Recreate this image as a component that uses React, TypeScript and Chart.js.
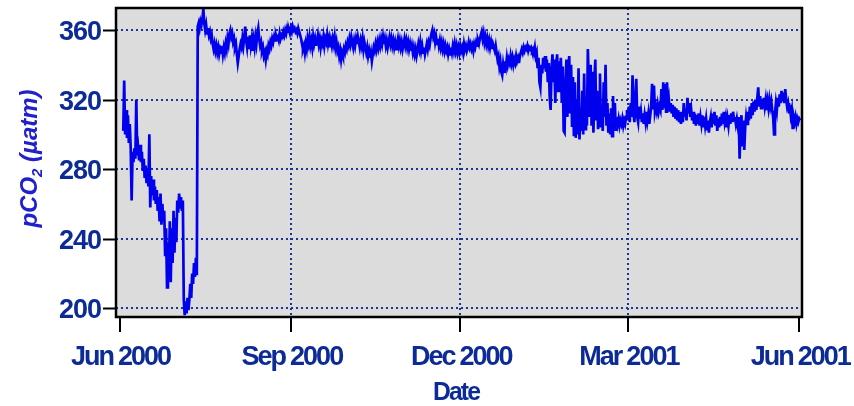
import React, { useEffect, useRef } from "react";
import { Chart, registerables } from "chart.js";

Chart.register(...registerables);

// Days since 1 June 2000
const xTickDays = [0, 92, 183, 273, 365];
const xTickLabels = ["Jun 2000", "Sep 2000", "Dec 2000", "Mar 2001", "Jun 2001"];
const yTickValues = [200, 240, 280, 320, 360];
const xTitle = "Date";

// Sampling grid of the record (days since 1 June 2000)
const dayStart = 2;
const dayStep = 0.5;

// pCO2 (µatm), one value every half day
const pco2 = [
  // day 2
  302, 331, 300, 314, 298, 311, 295, 306, 292, 262, 290, 284, 292, 286, 320, 288, 292, 285, 294, 284,
  // day 12
  290, 279, 286, 275, 282, 272, 280, 270, 300, 258, 276, 265, 274, 262, 270, 260, 268, 256, 264, 250,
  // day 22
  266, 248, 260, 250, 256, 230, 246, 212, 238, 222, 250, 215, 246, 226, 256, 232, 252, 238, 262, 255,
  // day 32
  266, 258, 264, 256, 262, 205, 196, 204, 197, 206, 199, 205, 214, 206, 220, 214, 226, 218, 229, 219,
  // day 42
  362, 364, 361, 365, 363, 366, 372, 364, 360, 363, 358, 361, 357, 359, 355, 357, 352, 349, 352, 348,
  // day 52
  351, 347, 350, 346, 349, 347, 351, 346, 350, 347, 352, 349, 355, 352, 358, 360, 356, 358, 353, 355,
  // day 62
  350, 352, 346, 341, 345, 349, 352, 350, 355, 351, 356, 362, 354, 350, 356, 349, 357, 351, 355, 348,
  // day 72
  354, 350, 356, 352, 358, 361, 355, 351, 353, 348, 350, 345, 347, 343, 348, 346, 351, 349, 353, 351,
  // day 82
  355, 353, 356, 354, 357, 355, 356, 354, 358, 355, 357, 356, 359, 357, 360, 358, 361, 359, 360, 358,
  // day 92
  361, 359, 362, 360, 361, 359, 360, 358, 361, 359, 357, 355, 352, 349, 351, 347, 352, 349, 355, 352,
  // day 102
  356, 351, 354, 350, 356, 352, 355, 351, 354, 357, 352, 355, 350, 354, 352, 356, 351, 355, 353, 357,
  // day 112
  352, 355, 350, 354, 351, 355, 352, 356, 350, 353, 348, 350, 345, 348, 343, 347, 345, 349, 347, 351,
  // day 122
  349, 353, 351, 355, 352, 356, 353, 350, 354, 351, 355, 352, 356, 353, 350, 354, 351, 355, 349, 353,
  // day 132
  350, 347, 350, 345, 348, 344, 347, 342, 346, 350, 348, 352, 349, 353, 350, 354, 351, 355, 352, 356,
  // day 142
  352, 355, 351, 354, 350, 353, 356, 352, 355, 351, 354, 350, 353, 349, 352, 355, 351, 354, 350, 353,
  // day 152
  349, 352, 355, 351, 354, 350, 353, 349, 352, 348, 351, 347, 350, 346, 349, 345, 348, 352, 349, 353,
  // day 162
  348, 351, 347, 350, 346, 349, 352, 349, 353, 351, 355, 358, 360, 356, 358, 353, 356, 352, 355, 351,
  // day 172
  354, 350, 353, 349, 352, 348, 351, 348, 350, 346, 349, 346, 350, 347, 351, 348, 352, 348, 351, 347,
  // day 182
  350, 347, 351, 348, 350, 347, 352, 349, 351, 348, 350, 353, 350, 352, 349, 351, 348, 352, 350, 353,
  // day 192
  351, 354, 352, 355, 357, 359, 355, 358, 353, 356, 352, 355, 351, 354, 350, 353, 349, 352, 350, 348,
  // day 202
  351, 347, 343, 345, 339, 342, 336, 334, 340, 336, 342, 339, 344, 340, 343, 341, 345, 341, 344, 340,
  // day 212
  343, 341, 345, 342, 344, 341, 345, 347, 349, 347, 350, 348, 350, 349, 351, 348, 350, 349, 350, 348,
  // day 222
  349, 347, 350, 345, 347, 338, 344, 330, 327, 340, 335, 344, 338, 345, 336, 343, 330, 341, 322, 314,
  // day 232
  338, 346, 330, 343, 318, 340, 346, 325, 342, 335, 344, 318, 339, 302, 301, 330, 343, 310, 338, 345,
  // day 242
  312, 340, 305, 333, 299, 330, 298, 320, 300, 338, 297, 315, 302, 325, 300, 335, 303, 318, 305, 349,
  // day 252
  330, 310, 340, 305, 336, 301, 330, 343, 308, 325, 303, 320, 335, 304, 316, 302, 330, 310, 340, 305,
  // day 262
  318, 301, 312, 300, 315, 299, 322, 305, 318, 302, 310, 306, 309, 305, 308, 306, 309, 305, 308, 306,
  // day 272
  310, 314, 308, 316, 307, 318, 310, 334, 312, 307, 320, 332, 310, 307, 316, 309, 313, 307, 312, 306,
  // day 282
  311, 307, 313, 308, 312, 306, 311, 316, 329, 315, 328, 313, 316, 313, 317, 313, 316, 314, 326, 314,
  // day 292
  330, 315, 329, 313, 330, 316, 320, 313, 318, 312, 317, 310, 316, 309, 315, 308, 314, 307, 313, 306,
  // day 302
  312, 307, 318, 310, 315, 308, 321, 312, 318, 310, 314, 308, 313, 306, 312, 305, 311, 306, 312, 305,
  // day 312
  310, 306, 311, 304, 310, 305, 309, 303, 308, 301, 307, 310, 304, 312, 306, 313, 305, 311, 302, 309,
  // day 322
  304, 310, 305, 312, 306, 313, 307, 310, 304, 309, 305, 311, 306, 312, 307, 313, 308, 310, 306, 309,
  // day 332
  305, 310, 286, 305, 311, 293, 308, 291, 304, 310, 306, 313, 308, 316, 309, 318, 311, 319, 313, 320,
  // day 342
  314, 321, 327, 316, 322, 315, 320, 315, 321, 316, 320, 314, 319, 315, 320, 316, 319, 314, 310, 300,
  // day 352
  312, 318, 314, 321, 316, 323, 318, 325, 319, 324, 318, 326, 320, 316, 318, 312, 317, 311, 314, 303,
  // day 362
  310, 307, 310, 306, 309, 307, 309, 308,
];

const NAVY = "#0c2b97";
const TITLE_BLUE = "#2020cc";
const LINE_BLUE = "#0000ee";
const GRID_BLUE = "#1a3596";
const FONT_FAMILY = '"Liberation Sans", Arial, sans-serif';

function drawScaled(
  ctx: CanvasRenderingContext2D,
  text: string,
  x: number,
  y: number,
  sx: number,
  align: CanvasTextAlign
) {
  ctx.save();
  ctx.translate(x, y);
  ctx.scale(sx, 1);
  ctx.textAlign = align;
  ctx.fillText(text, 0, 0);
  ctx.restore();
}

// Draws a label centred on cx with a tight gap between its words
function drawTightLabel(ctx: CanvasRenderingContext2D, text: string, cx: number, y: number, gap: number) {
  const words = text.split(" ");
  const widths = words.map((w) => ctx.measureText(w).width);
  const total = widths.reduce((s, w) => s + w, 0) + gap * (words.length - 1);
  let x = cx - total / 2;
  ctx.save();
  ctx.textAlign = "left";
  words.forEach((w, i) => {
    ctx.fillText(w, x, y);
    x += widths[i] + gap;
  });
  ctx.restore();
}

export default function App() {
  const ref = useRef<HTMLCanvasElement>(null);

  useEffect(() => {
    const canvas = ref.current;
    if (!canvas) return;
    const points = pco2.map((v, i) => ({ x: dayStart + i * dayStep, y: v }));

    const framePlugin = {
      id: "frame",
      beforeDraw(chart: any) {
        const { ctx, chartArea: a } = chart;
        ctx.save();
        ctx.fillStyle = "#dcdcdc";
        ctx.fillRect(a.left, a.top, a.right - a.left, a.bottom - a.top);
        ctx.restore();
      },
      afterDraw(chart: any) {
        const { ctx, chartArea: a, scales } = chart;
        const xs = scales.x;
        const ys = scales.y;
        ctx.save();
        // frame
        ctx.strokeStyle = "#000";
        ctx.lineWidth = 2.5;
        ctx.strokeRect(a.left, a.top, a.right - a.left, a.bottom - a.top);
        // ticks
        ctx.lineWidth = 2;
        ctx.beginPath();
        xTickDays.forEach((d) => {
          const px = Math.round(xs.getPixelForValue(d));
          ctx.moveTo(px, a.bottom);
          ctx.lineTo(px, a.bottom + 15);
        });
        yTickValues.forEach((v) => {
          const py = Math.round(ys.getPixelForValue(v)) + 0.5;
          ctx.moveTo(a.left - 13, py);
          ctx.lineTo(a.left, py);
        });
        ctx.stroke();

        // tick labels
        ctx.fillStyle = NAVY;
        ctx.font = `bold 27px ${FONT_FAMILY}`;
        ctx.textBaseline = "alphabetic";
        (ctx as any).letterSpacing = "-2px";
        xTickDays.forEach((d, i) => {
          drawTightLabel(ctx, xTickLabels[i], xs.getPixelForValue(d) + 1, a.bottom + 48, 5);
        });
        (ctx as any).letterSpacing = "-1px";
        yTickValues.forEach((v) => {
          drawScaled(ctx, String(v), a.left - 15, ys.getPixelForValue(v) + 10, 1.0, "right");
        });
        // x title
        (ctx as any).letterSpacing = "-2px";
        ctx.font = `bold 26px ${FONT_FAMILY}`;
        drawScaled(ctx, xTitle, (a.left + a.right) / 2 - 3, 400, 0.95, "center");

        // y title: pCO2 (µatm), rotated
        (ctx as any).letterSpacing = "0px";
        ctx.fillStyle = TITLE_BLUE;
        const big = `italic bold 24px ${FONT_FAMILY}`;
        const small = `italic bold 15px ${FONT_FAMILY}`;
        const p1 = "pCO";
        const p2 = "2";
        const p3 = " (\u00B5atm)";
        ctx.font = big;
        const w1 = ctx.measureText(p1).width;
        const w3 = ctx.measureText(p3).width;
        ctx.font = small;
        const w2 = ctx.measureText(p2).width;
        const total = w1 + w2 + w3;
        const cy = (a.top + a.bottom) / 2 - 4;
        ctx.translate(37, cy);
        ctx.rotate(-Math.PI / 2);
        ctx.textAlign = "left";
        let sx = -total / 2;
        ctx.font = big;
        ctx.fillText(p1, sx, 0);
        sx += w1;
        ctx.font = small;
        ctx.fillText(p2, sx, 5);
        sx += w2;
        ctx.font = big;
        ctx.fillText(p3, sx, 0);
        ctx.restore();
      },
    };

    const chart = new Chart(canvas, {
      type: "line",
      data: {
        datasets: [
          {
            data: points,
            borderColor: LINE_BLUE,
            borderWidth: 2.7,
            pointRadius: 0,
            tension: 0,
            fill: false,
          },
        ],
      },
      options: {
        animation: false,
        responsive: false,
        devicePixelRatio: 1,
        parsing: false,
        normalized: true,
        layout: { padding: { left: 116, right: 52, top: 8, bottom: 89 } },
        plugins: {
          legend: { display: false },
          tooltip: { enabled: false },
        },
        scales: {
          x: {
            type: "linear",
            min: -1.9,
            max: 366.5,
            afterBuildTicks: (scale: any) => {
              scale.ticks = xTickDays.map((v) => ({ value: v }));
            },
            afterFit: (scale: any) => {
              scale.height = 0;
            },
            ticks: { display: false },
            border: { display: false, dash: [2, 3] },
            grid: {
              drawTicks: false,
              lineWidth: 2,
              color: (c: any) =>
                c.index === 0 || c.index === xTickDays.length - 1 ? "rgba(0,0,0,0)" : GRID_BLUE,
            },
          },
          y: {
            type: "linear",
            min: 195,
            max: 372.65,
            afterBuildTicks: (scale: any) => {
              scale.ticks = yTickValues.map((v) => ({ value: v }));
            },
            afterFit: (scale: any) => {
              scale.width = 0;
            },
            ticks: { display: false },
            border: { display: false, dash: [2, 3] },
            grid: { drawTicks: false, lineWidth: 2, color: GRID_BLUE },
          },
        },
      },
      plugins: [framePlugin],
    } as any);

    return () => chart.destroy();
  }, []);

  return (
    <div style={{ position: "absolute", left: 0, top: 0, width: 854, height: 406 }}>
      <canvas ref={ref} width={854} height={406} style={{ display: "block", width: 854, height: 406 }} />
    </div>
  );
}
